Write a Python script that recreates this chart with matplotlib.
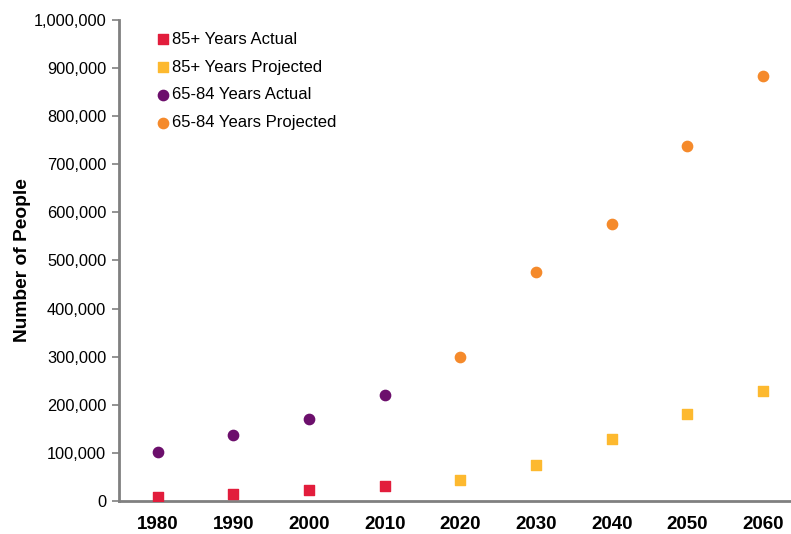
import numpy as np
import matplotlib.pyplot as plt
from matplotlib.ticker import FuncFormatter

plt.rcParams['font.family'] = ['Liberation Sans', 'DejaVu Sans']

years = ['1980', '1990', '2000', '2010', '2020', '2030', '2040', '2050', '2060']
x = np.arange(len(years))

# 85+ population, actual then projected
old85_actual = [9000, 14500, 23000, 31000]
old85_proj = [43000, 75000, 128000, 180000, 229000]
# 65-84 population, actual then projected
old65_actual = [102000, 137000, 170000, 220000]
old65_proj = [299000, 477000, 575000, 737000, 884000]

fig = plt.figure(figsize=(7.91, 5.34), dpi=100)
ax = fig.add_axes([0.150, 0.062, 0.85, 0.9005])

ax.scatter(x[:4], old85_actual, marker='s', s=60, color='#E21D3C', label='85+ Years Actual', zorder=3)
ax.scatter(x[4:], old85_proj, marker='s', s=60, color='#FDB92F', label='85+ Years Projected', zorder=3)
ax.scatter(x[:4], old65_actual, marker='o', s=55, color='#6C0F6C', label='65-84 Years Actual', zorder=3)
ax.scatter(x[4:], old65_proj, marker='o', s=55, color='#F58A2B', label='65-84 Years Projected', zorder=3)

ax.set_xlim(-0.516, 8.37)
ax.set_ylim(0, 1000000)
ax.set_yticks(np.arange(0, 1000001, 100000))
ax.yaxis.set_major_formatter(FuncFormatter(lambda v, p: f'{int(v):,}'))
ax.set_xticks(x)
ax.set_xticklabels(years, fontsize=13.5, fontweight='bold')
ax.tick_params(axis='x', length=0, pad=11)
ax.tick_params(axis='y', length=5, width=1.2, color='#808080', labelsize=11.8, pad=4)

for side in ['top', 'right']:
    ax.spines[side].set_visible(False)
for side in ['left', 'bottom']:
    ax.spines[side].set_color('#808080')
    ax.spines[side].set_linewidth(2)

ax.set_ylabel('Number of People', fontsize=13.8, fontweight='bold', labelpad=2)

ax.legend(loc='upper left', bbox_to_anchor=(0.035, 1.0), frameon=False,
          fontsize=12, handletextpad=0.0, labelspacing=0.77, handlelength=1.1,
          borderaxespad=0.3)

fig.savefig('out.png', dpi=100)
